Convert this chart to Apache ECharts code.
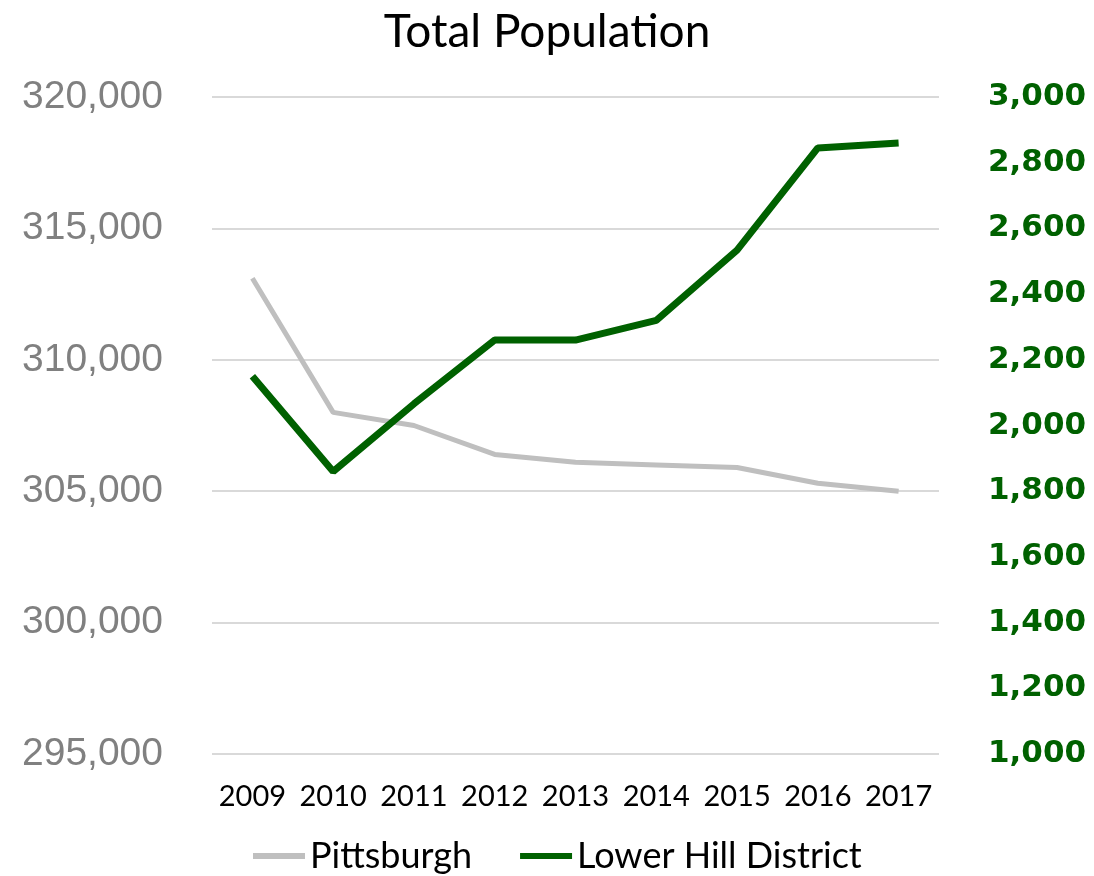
<!DOCTYPE html>
<html><head><meta charset="utf-8">
<script src="https://cdn.jsdelivr.net/npm/echarts@6/dist/echarts.min.js"></script>
<style>html,body{margin:0;padding:0;background:#fff}#c{width:1094px;height:876px}</style>
</head><body><div id="c"></div>
<script>
const years = ['2009','2010','2011','2012','2013','2014','2015','2016','2017'];
const pittsburgh = [313100, 308000, 307500, 306400, 306100, 306000, 305900, 305300, 305000];
const lowerHill = [2150, 1860, 2066, 2260, 2260, 2320, 2534, 2845, 2860];
const leftTicks = {min: 295000, max: 320000, interval: 5000};
const rightTicks = {min: 1000, max: 3000, interval: 200};

const fmt = v => v.toLocaleString('en-US');
const font = 'Lato, "Open Sans", sans-serif';
const chart = echarts.init(document.getElementById('c'));
chart.setOption({
  animation: false,
  title: {text: 'Total Population', left: 'center', top: 4,
    textStyle: {fontFamily: font, fontSize: 46, fontWeight: 'normal', color: '#000'}},
  grid: {left: 212, right: 155, top: 97, bottom: 122},
  legend: {bottom: -3, left: 248, itemWidth: 52, itemHeight: 6, itemGap: 48,
    icon: 'rect',
    textStyle: {fontFamily: font, fontSize: 36, color: '#000', padding: [0, 0, 0, 0]},
    data: ['Pittsburgh', 'Lower Hill District']},
  xAxis: {type: 'category', data: years, boundaryGap: true,
    axisLine: {show: false}, axisTick: {show: false},
    axisLabel: {interval: 0, fontFamily: font, fontSize: 29, color: '#000', margin: 28}},
  yAxis: [
    {type: 'value', min: leftTicks.min, max: leftTicks.max, interval: leftTicks.interval,
      axisLine: {show: false}, axisTick: {show: false},
      splitLine: {lineStyle: {color: '#d9d9d9', width: 2}},
      axisLabel: {formatter: fmt, fontFamily: '"Liberation Sans", Arial, sans-serif', fontSize: 39, color: '#808080', margin: 49}},
    {type: 'value', min: rightTicks.min, max: rightTicks.max, interval: rightTicks.interval,
      axisLine: {show: false}, axisTick: {show: false}, splitLine: {show: false},
      axisLabel: {formatter: fmt, fontFamily: '"DejaVu Sans", sans-serif', fontSize: 31, fontWeight: 'bold', color: '#006100', margin: 49, padding: [4, 0, 0, 0]}}
  ],
  series: [
    {name: 'Pittsburgh', type: 'line', data: pittsburgh, yAxisIndex: 0, symbol: 'none',
      lineStyle: {color: '#bfbfbf', width: 5}, itemStyle: {color: '#bfbfbf'}},
    {name: 'Lower Hill District', type: 'line', data: lowerHill, yAxisIndex: 1, symbol: 'none',
      lineStyle: {color: '#006100', width: 7}, itemStyle: {color: '#006100'}}
  ]
});
</script></body></html>
